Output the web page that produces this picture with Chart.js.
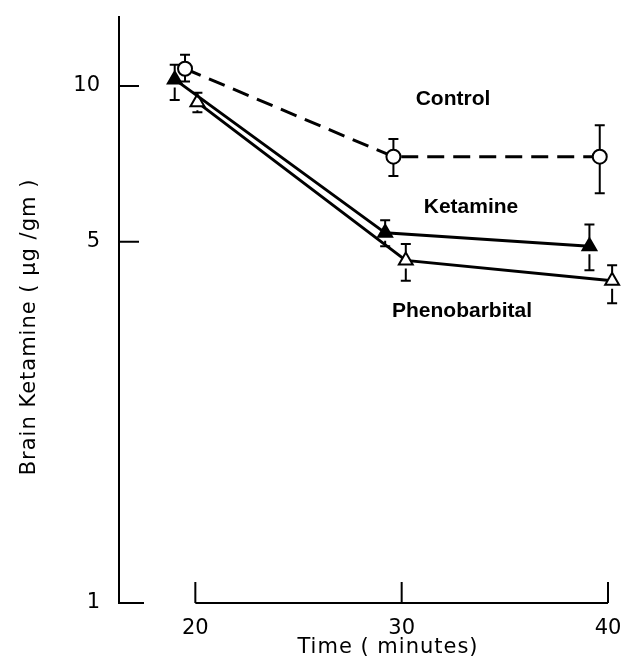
<!DOCTYPE html>
<html>
<head>
<meta charset="utf-8">
<script src="https://cdn.jsdelivr.net/npm/chart.js@4/dist/chart.umd.min.js"></script>
<style>
  html, body { margin: 0; padding: 0; background: #fff; }
</style>
</head>
<body>
<canvas id="ketamine-chart" width="623" height="671"></canvas>
<script>
// Time (minutes) of each measurement, per group
const controlTime = [19.5, 29.6, 39.6];
const ketamineTime = [19.0, 29.2, 39.1];
const phenoTime = [20.1, 30.2, 40.2];

// Brain ketamine (ug/gm), mean and error bar ends
const controlMean = [10.8, 7.3, 7.3];
const controlHigh = [11.5, 7.9, 8.4];
const controlLow = [10.2, 6.7, 6.2];

const ketamineMean = [10.3, 5.2, 4.9];
const ketamineHigh = [11.0, 5.5, 5.4];
const ketamineLow = [9.4, 4.9, 4.4];

const phenoMean = [9.3, 4.6, 4.2];
const phenoHigh = [9.7, 4.95, 4.5];
const phenoLow = [8.9, 4.2, 3.8];

// axis ticks
const xTicks = [20, 30, 40];
const yTicks = [1, 5, 10];
const seriesNames = ['Control', 'Ketamine', 'Phenobarbital'];

const toPoints = (xs, ys) => xs.map((x, i) => ({ x: x, y: ys[i] }));

const axisFont = { family: 'DejaVu Sans', size: 21 };

// error bars + hand-drawn axis pieces like the old figure
const errorBars = {
  id: 'errorBars',
  afterDatasetsDraw(chart) {
    const ctx = chart.ctx;
    const xs = chart.scales.x, ys = chart.scales.y;
    ctx.save();
    ctx.strokeStyle = '#000';
    ctx.lineWidth = 2;
    chart.data.datasets.forEach(ds => {
      ds.data.forEach((p, i) => {
        const px = xs.getPixelForValue(p.x);
        const top = ys.getPixelForValue(ds.high[i]);
        const bot = ys.getPixelForValue(ds.low[i]);
        const mid = ys.getPixelForValue(p.y);
        const r = ds.pointRadius;
        ctx.beginPath();
        ctx.moveTo(px, top); ctx.lineTo(px, Math.min(bot, mid - r));
        ctx.moveTo(px, Math.max(top, mid + r)); ctx.lineTo(px, bot);
        ctx.moveTo(px - 5, top); ctx.lineTo(px + 5, top);
        ctx.moveTo(px - 5, bot); ctx.lineTo(px + 5, bot);
        ctx.stroke();
      });
    });

    // y ticks pointing inward
    const left = chart.chartArea.left;
    ctx.beginPath();
    yTicks.forEach(v => {
      const py = ys.getPixelForValue(v);
      ctx.moveTo(left, py); ctx.lineTo(left + (v === 1 ? 25 : 20), py);
    });
    // detached x axis from 20 to 40
    const base = ys.getPixelForValue(1);
    ctx.moveTo(xs.getPixelForValue(20), base);
    ctx.lineTo(xs.getPixelForValue(40), base);
    xTicks.forEach(v => {
      const px = xs.getPixelForValue(v);
      ctx.moveTo(px, base); ctx.lineTo(px, base - 21);
    });
    ctx.stroke();

    // series names
    ctx.fillStyle = '#000';
    ctx.textAlign = 'center';
    ctx.textBaseline = 'middle';
    ctx.font = 'bold 21px "Liberation Sans"';
    ctx.fillText(seriesNames[0], 453, 99);
    ctx.fillText(seriesNames[1], 471, 207);
    ctx.fillText(seriesNames[2], 462, 311);

    // axis titles
    ctx.font = '21px "DejaVu Sans"';
    ctx.letterSpacing = '1px';
    ctx.fillText('Time ( minutes)', 388, 648);
    ctx.translate(30, 327);
    ctx.rotate(-Math.PI / 2);
    ctx.fillText('Brain Ketamine ( \u00b5g /gm )', 0, 0);
    ctx.restore();
  }
};

const chartCanvas = document.querySelector('#ketamine-chart');

const ketamineChart = new Chart(chartCanvas, {
  type: 'line',
  data: {
    datasets: [
      {
        label: seriesNames[0],
        data: toPoints(controlTime, controlMean),
        high: controlHigh, low: controlLow,
        borderColor: '#000', borderWidth: 3, borderDash: [17, 9],
        pointStyle: 'circle', pointRadius: 7,
        pointBackgroundColor: '#fff', pointBorderColor: '#000', pointBorderWidth: 2,
        clip: false
      },
      {
        label: seriesNames[1],
        data: toPoints(ketamineTime, ketamineMean),
        high: ketamineHigh, low: ketamineLow,
        borderColor: '#000', borderWidth: 3,
        pointStyle: 'triangle', pointRadius: 8,
        pointBackgroundColor: '#000', pointBorderColor: '#000', pointBorderWidth: 2,
        clip: false
      },
      {
        label: seriesNames[2],
        data: toPoints(phenoTime, phenoMean),
        high: phenoHigh, low: phenoLow,
        borderColor: '#000', borderWidth: 3,
        pointStyle: 'triangle', pointRadius: 8,
        pointBackgroundColor: '#fff', pointBorderColor: '#000', pointBorderWidth: 2,
        clip: false
      }
    ]
  },
  options: {
    responsive: false,
    animation: false,
    layout: { padding: { top: 17, right: 15 } },
    plugins: {
      legend: { display: false },
      tooltip: { enabled: false }
    },
    scales: {
      x: {
        type: 'linear',
        min: 16.3,
        max: 40,
        afterBuildTicks: s => { s.ticks = xTicks.map(v => ({ value: v })); },
        afterFit: s => { s.height = 68; s.paddingLeft = 0; s.paddingRight = 0; },
        grid: { display: false, drawTicks: false },
        border: { display: false },
        ticks: { color: '#000', font: axisFont, padding: 13, maxRotation: 0 }
      },
      y: {
        type: 'logarithmic',
        min: 1,
        max: 13.6,
        afterBuildTicks: s => { s.ticks = yTicks.map(v => ({ value: v })); },
        afterFit: s => { s.width = 119; s.paddingTop = 0; s.paddingBottom = 0; },
        grid: { display: false, drawTicks: false },
        border: { display: true, color: '#000', width: 2 },
        ticks: {
          color: '#000', font: axisFont, padding: 19,
          callback: v => String(v)
        }
      }
    }
  },
  plugins: [errorBars]
});
</script>
</body>
</html>
